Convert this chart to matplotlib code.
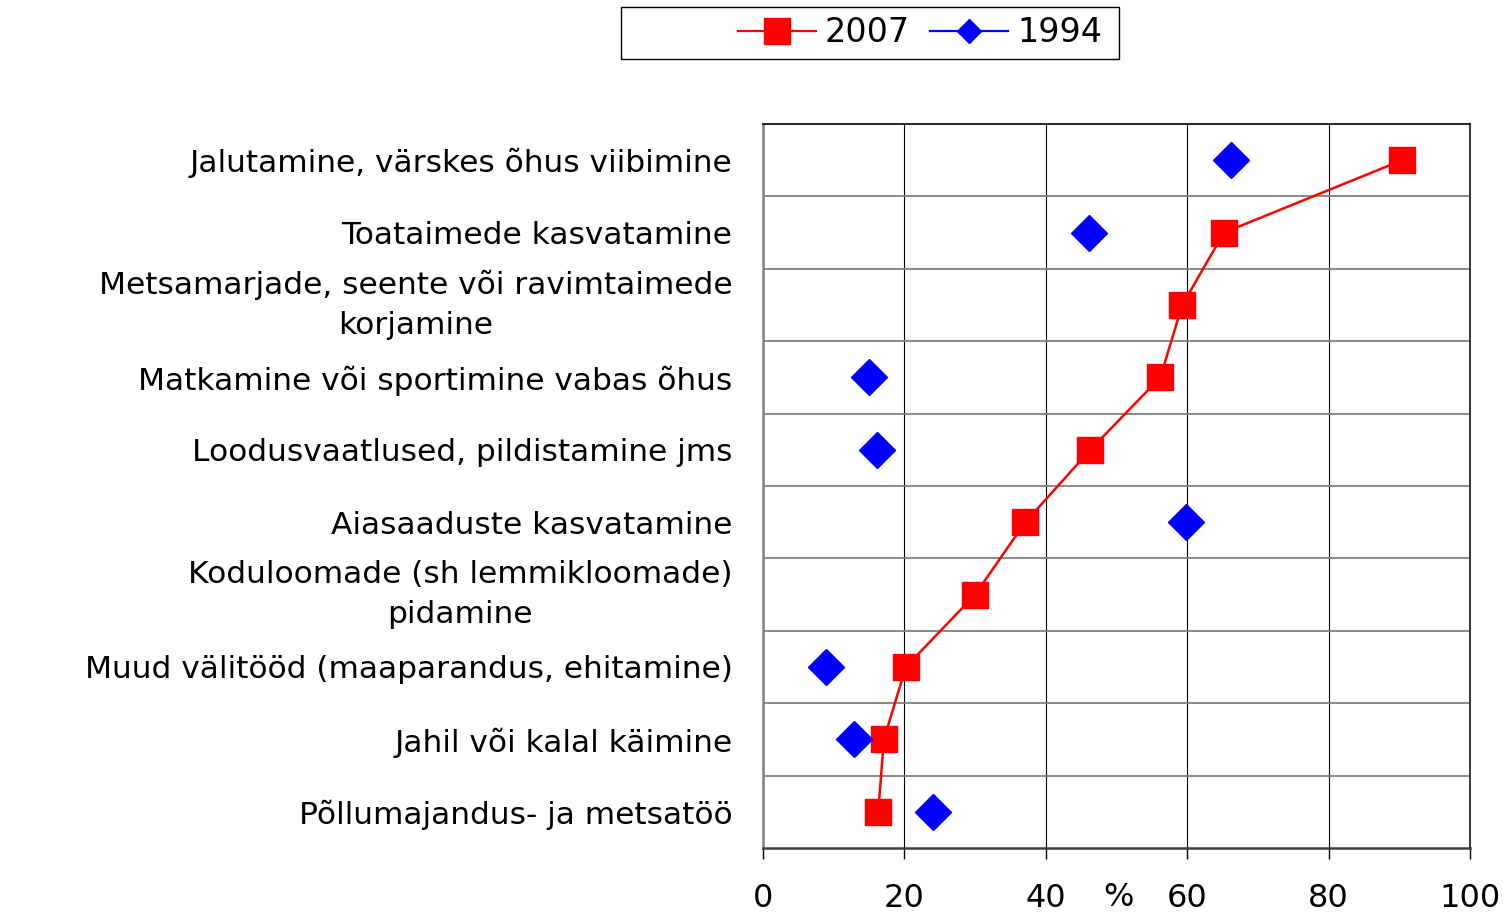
import matplotlib.pyplot as plt
import numpy as np
from matplotlib.lines import Line2D
from matplotlib.patches import Rectangle

# data (percent)
categories = [
    "Jalutamine, värskes õhus viibimine",
    "Toataimede kasvatamine",
    "Metsamarjade, seente või ravimtaimede\nkorjamine",
    "Matkamine või sportimine vabas õhus",
    "Loodusvaatlused, pildistamine jms",
    "Aiasaaduste kasvatamine",
    "Koduloomade (sh lemmikloomade)\npidamine",
    "Muud välitööd (maaparandus, ehitamine)",
    "Jahil või kalal käimine",
    "Põllumajandus- ja metsatöö",
]
values_2007 = [90.4, 65.2, 59.3, 56.2, 46.3, 37.1, 30.0, 20.2, 17.1, 16.3]
values_1994 = [66.2, 46.1, np.nan, 15.0, 16.1, 59.8, np.nan, 8.9, 12.9, 24.0]
xticks = [0, 20, 40, 60, 80, 100]

plt.rcParams['font.family'] = ['DejaVu Sans']

fig = plt.figure(figsize=(15.11, 9.13), dpi=100)
ax = fig.add_axes([763 / 1511, 1 - 848 / 913, (1470 - 763) / 1511, (848 - 124) / 913])

y = np.arange(len(categories))

ax.plot(values_2007, y, color='red', lw=1.8, marker='s', ms=18.5,
        markerfacecolor='red', markeredgecolor='red', zorder=4)
ax.plot(values_1994, y, ls='none', marker='D', ms=18.5,
        markerfacecolor='blue', markeredgecolor='blue', zorder=4)

ax.set_xlim(0, 100)
ax.set_ylim(len(categories) - 0.5, -0.5)
ax.set_xticks(xticks)
ax.set_xticklabels([str(t) for t in xticks], fontsize=23)
ax.tick_params(axis='x', direction='out', length=8, width=1, pad=17, color='black')

ax.set_yticks(y)
ax.set_yticklabels(categories, fontsize=22.5, multialignment='center', linespacing=1.5)
ax.tick_params(axis='y', length=0, pad=22)
for lab in ax.get_yticklabels():
    if '\n' in lab.get_text():
        lab.set_verticalalignment('center')

# row separators
ax.set_yticks(np.arange(0.5, len(categories) - 0.5, 1), minor=True)
ax.tick_params(axis='y', which='minor', length=0)
ax.grid(axis='y', which='minor', color='#808080', lw=1.3)
ax.grid(axis='x', which='major', color='black', lw=0.8)
ax.set_axisbelow(True)

ax.spines['left'].set_color('#808080')
ax.spines['left'].set_linewidth(1.8)
ax.spines['bottom'].set_color('#404040')
ax.spines['bottom'].set_linewidth(1.8)
ax.spines['top'].set_color('black')
ax.spines['top'].set_linewidth(1.2)
ax.spines['right'].set_color('#404040')
ax.spines['right'].set_linewidth(1.5)

fig.text(1118 / 1511, 1 - 897 / 913, '%', fontsize=23, ha='center', va='center')

# legend: box drawn separately, entries sit right of centre like the original
fig.patches.append(Rectangle((621 / 1511, 1 - 59 / 913), (1119 - 621) / 1511, 52 / 913,
                             transform=fig.transFigure, fill=False, ec='black', lw=1.0))
handles = [
    Line2D([], [], color='red', lw=1.6, marker='s', ms=18.5),
    Line2D([], [], color='blue', lw=1.6, marker='D', ms=12.7),
]
fig.legend(handles, ['2007', '1994'], loc='center', bbox_to_anchor=(920 / 1511, 1 - 33 / 913),
           ncol=2, frameon=False, fontsize=24, handlelength=2.34, handletextpad=0.27,
           columnspacing=0.6, borderpad=0)

fig.savefig('out.png', dpi=100)
